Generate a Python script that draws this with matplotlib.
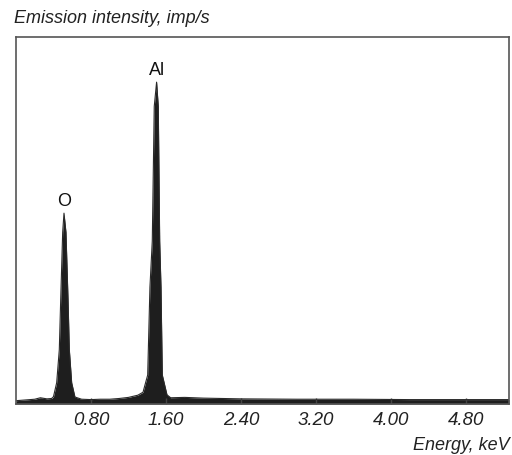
import matplotlib
matplotlib.use("Agg")
import matplotlib.pyplot as plt

plt.rcParams['font.family'] = ['Liberation Sans', 'DejaVu Sans']

# Spectrum (energy in keV, intensity in arbitrary imp/s units)
energy = [0.00, 0.10, 0.20, 0.26, 0.33, 0.38, 0.40, 0.434, 0.462, 0.477, 0.498, 0.512,
          0.533, 0.555, 0.569, 0.594, 0.629, 0.70, 0.80, 0.90, 1.00, 1.10, 1.20, 1.30,
          1.355, 1.405, 1.429, 1.454, 1.475, 1.500, 1.518, 1.533, 1.547, 1.561, 1.611,
          1.65, 1.80, 2.00, 2.40, 3.00, 3.60, 4.20, 4.80, 5.26]
intensity = [9, 11, 13, 17, 14, 15, 20, 58, 148, 285, 468, 520,
             468, 285, 148, 58, 19, 13, 12, 13, 13, 15, 18, 24,
             32, 79, 318, 444, 811, 877, 811, 444, 318, 79, 25,
             17, 18, 16, 14, 13, 13, 12, 12, 12]

peak_labels = ["O", "Al"]
peak_energy = [0.512, 1.500]
peak_height = [520, 877]

tick_values = [0.80, 1.60, 2.40, 3.20, 4.00, 4.80]
tick_labels = ["0.80", "1.60", "2.40", "3.20", "4.00", "4.80"]

fig = plt.figure(figsize=(5.12, 4.55), dpi=100)
ax = fig.add_axes([16/512, 1-404/455, (509-16)/512, (404-37)/455])

ax.fill_between(energy, 0, intensity, color="#1e1e1e", linewidth=0)
ax.plot(energy, intensity, color="#2a2a2a", linewidth=0.8)

for lab, e, h in zip(peak_labels, peak_energy, peak_height):
    ax.text(e, h + 8, lab, ha="center", va="bottom", fontsize=13, color="#111111")

ax.set_xlim(0, 5.26)
ax.set_ylim(0, 1000)
ax.set_xticks(tick_values)
ax.set_xticklabels(tick_labels, fontstyle="italic", fontsize=13.5)
ax.set_yticks([])
ax.tick_params(axis="x", direction="in", length=4, width=1, color="#444444", pad=6,
               labelcolor="#222222")
for s in ax.spines.values():
    s.set_color("#555555")
    s.set_linewidth(1.2)

fig.text(14/512, 1-23/455, "Emission intensity, imp/s", ha="left", va="baseline",
         fontstyle="italic", fontsize=13, color="#222222")
fig.text(510/512, 1-450/455, "Energy, keV", ha="right", va="baseline",
         fontstyle="italic", fontsize=13, color="#222222")

fig.savefig("out.png", dpi=100)
